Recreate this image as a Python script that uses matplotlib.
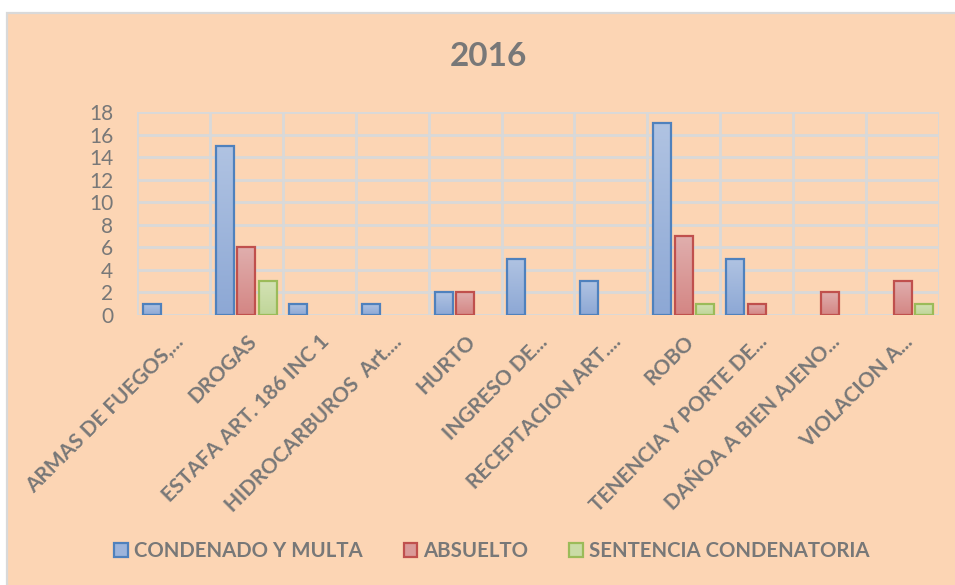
import numpy as np
import matplotlib
matplotlib.use("Agg")
import matplotlib.pyplot as plt
from matplotlib.patches import Rectangle, Patch
from matplotlib.colors import LinearSegmentedColormap
import matplotlib.transforms as mtransforms

categories = ["ARMAS DE FUEGOS,...", "DROGAS", "ESTAFA ART. 186 INC 1",
              "HIDROCARBUROS  Art....", "HURTO", "INGRESO DE...",
              "RECEPTACION ART....", "ROBO", "TENENCIA Y PORTE DE...",
              "DAÑOA A BIEN AJENO...", "VIOLACION A..."]
condenado = [1, 15, 1, 1, 2, 5, 3, 17, 5, 0, 0]
absuelto = [0, 6, 0, 0, 2, 0, 0, 7, 1, 2, 3]
sentencia = [0, 3, 0, 0, 0, 0, 0, 1, 0, 0, 1]
series_names = ["CONDENADO Y MULTA", "ABSUELTO", "SENTENCIA CONDENATORIA"]
yticks = list(range(0, 20, 2))

FONT = ["Lato", "DejaVu Sans"]
plt.rcParams['font.family'] = FONT
TXT = "#787878"
PEACH = "#FCD5B4"
GRID = "#D9D9D9"

styles = [
    dict(top="#B0C3E2", bottom="#8DA8D5", edge="#4F81BD", mid="#9DB4DB"),
    dict(top="#E0AEAD", bottom="#D48684", edge="#C0504D", mid="#DA9A98"),
    dict(top="#D3E2B4", bottom="#C0D699", edge="#9BBB59", mid="#CADCA6"),
]

W, H = 955, 585
fig = plt.figure(figsize=(W / 100, H / 100), dpi=100, facecolor="white")
fig.patches.append(Rectangle((7 / W, -0.05), 1.1, (585 - 12.5) / H + 0.05,
                             transform=fig.transFigure, facecolor=PEACH,
                             edgecolor=GRID, linewidth=1.6, zorder=-10))

ax = fig.add_axes([137 / W, (H - 315) / H, (939 - 137) / W, (315 - 112) / H])
ax.set_facecolor("none")
for s in ax.spines.values():
    s.set_visible(False)

x = np.arange(len(categories))
step = 0.295
bw = 0.247
for i, vals in enumerate([condenado, absuelto, sentencia]):
    vals = np.array(vals)
    mask = vals > 0
    st = styles[i]
    cmap = LinearSegmentedColormap.from_list("g%d" % i, [st["bottom"], st["top"]])
    bars = ax.bar(x[mask] + (i - 1) * step, vals[mask], width=bw,
                  facecolor="none", edgecolor=st["edge"], linewidth=1.6, zorder=4)
    for r in bars:
        x0, w, h = r.get_x(), r.get_width(), r.get_height()
        grad = np.linspace(0, 1, 64).reshape(-1, 1)
        im = ax.imshow(grad, extent=[x0, x0 + w, 0, h], origin="lower",
                       aspect="auto", cmap=cmap, zorder=3, interpolation="bilinear")
        clip = Rectangle((x0, 0), w, h, transform=ax.transData)
        im.set_clip_path(clip)

ax.set_xlim(-0.5, len(categories) - 0.5)
ax.set_ylim(0, 18)
ax.set_yticks(yticks)
ax.set_yticklabels([str(v) for v in yticks], fontsize=15, color=TXT)
ax.tick_params(axis="y", length=0, pad=17)
ax.set_xticks(np.arange(-0.5, len(categories), 1), minor=True)
ax.set_xticks(x)
ax.set_xticklabels(categories, rotation=45, ha="right", va="center",
                   rotation_mode="anchor", fontsize=15, fontweight="bold",
                   color=TXT)
ax.tick_params(axis="x", which="both", length=0, pad=17)
offset = mtransforms.ScaledTranslation(7 / 100, 0, fig.dpi_scale_trans)
for lab in ax.get_xticklabels():
    lab.set_transform(lab.get_transform() + offset)
ax.grid(axis="y", which="major", color=GRID, linewidth=2, zorder=0)
ax.grid(axis="x", which="minor", color=GRID, linewidth=2, zorder=0)
ax.set_axisbelow(True)

fig.text(488 / W, (H - 56) / H, "2016", ha="center", va="center",
         fontsize=24, fontweight="bold", color=TXT)

handles = [Patch(facecolor=st["mid"], edgecolor=st["edge"], linewidth=1.6)
           for st in styles]
leg = fig.legend(handles, series_names, loc="center", ncol=3,
                 bbox_to_anchor=(492 / W, (H - 551) / H), frameon=False,
                 prop=dict(family=FONT, size=14.7, weight="bold"),
                 handlelength=0.68, handleheight=0.68, handletextpad=0.3,
                 columnspacing=2.0)
for t in leg.get_texts():
    t.set_color(TXT)

fig.savefig("out.png", dpi=100, facecolor="white")
